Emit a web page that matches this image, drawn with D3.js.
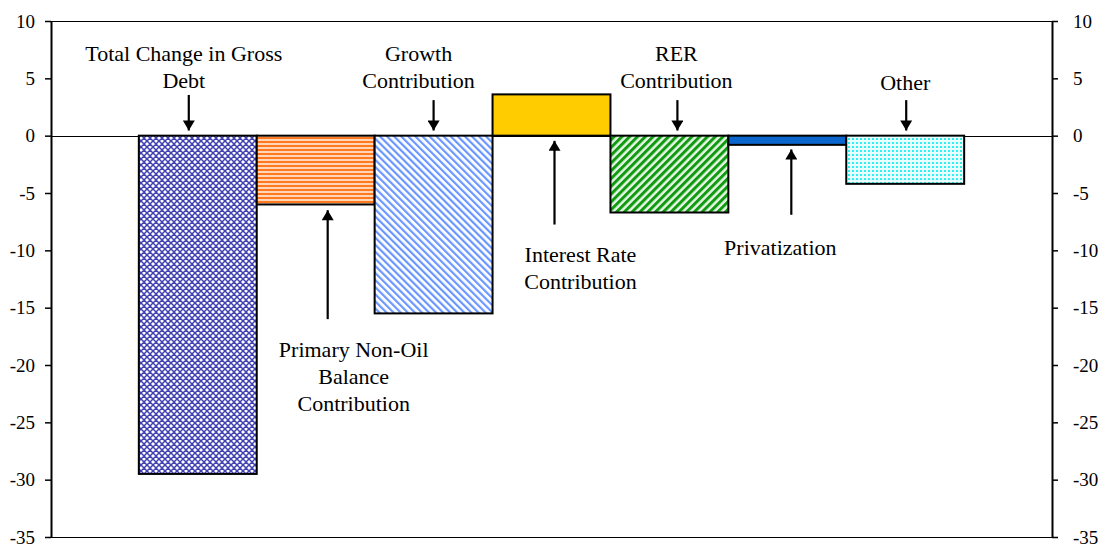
<!DOCTYPE html>
<html>
<head>
<meta charset="utf-8">
<script src="https://cdn.jsdelivr.net/npm/d3@7"></script>
<style>
  body { margin: 0; background: #fff; }
  svg text { font-family: "Liberation Serif", "Times New Roman", Times, "DejaVu Serif", serif; }
</style>
</head>
<body>
<div id="chart"></div>
<script>
// data
var categories = ["Total Change in Gross Debt", "Primary Non-Oil Balance Contribution",
  "Growth Contribution", "Interest Rate Contribution", "RER Contribution",
  "Privatization", "Other"];
var values = [-29.5, -6.0, -15.5, 3.6, -6.7, -0.8, -4.2];
var yTicks = [10, 5, 0, -5, -10, -15, -20, -25, -30, -35];

// label text and where it sits (y in data units, dx in px from bar centre)
var labelLines = [
  ["Total Change in Gross", "Debt"],
  ["Primary Non-Oil", "Balance", "Contribution"],
  ["Growth", "Contribution"],
  ["Interest Rate", "Contribution"],
  ["RER", "Contribution"],
  ["Privatization"],
  ["Other"]
];
var labelY = [6.5, -19.3, 6.5, -11.0, 6.5, -10.4, 4.0];
var labelDx = [-14, 38, -15, 29, 7, -7, 0];
var arrowFrom = [3.55, -16.0, 3.1, -7.75, 3.1, -6.9, 3.1];
var arrowTo = [0.45, -6.5, 0.45, -0.45, 0.45, -1.2, 0.45];
var arrowDx = [-9, 12, 0, 3, 8, 4, 1];

var FONT = "'Liberation Serif', 'Times New Roman', Times, 'DejaVu Serif', serif";

var W = 1110, H = 546;
var margin = {top: 21, right: 58, bottom: 9, left: 51},
    width = W - margin.left - margin.right,
    height = H - margin.top - margin.bottom;

var svg = d3.select("#chart").append("svg")
    .attr("width", W).attr("height", H)
    .attr("font-family", FONT);

// patterns
var defs = svg.append("defs");

var p1 = defs.append("pattern").attr("id", "pTotal")
  .attr("patternUnits", "userSpaceOnUse").attr("width", 6).attr("height", 6);
p1.append("rect").attr("width", 6).attr("height", 6).attr("fill", "#fff");
p1.append("path").attr("d", "M0,0L6,6M6,0L0,6M-3,3L3,9M3,-3L9,3M3,9L9,3M-3,3L3,-3")
  .attr("stroke", "#4040b0").attr("stroke-width", 1.5);

var p2 = defs.append("pattern").attr("id", "pPrimary")
  .attr("patternUnits", "userSpaceOnUse").attr("width", 4).attr("height", 4);
p2.append("rect").attr("width", 4).attr("height", 4).attr("fill", "#ffd6b8");
p2.append("rect").attr("width", 4).attr("height", 2).attr("fill", "#ff7a1e");

var p3 = defs.append("pattern").attr("id", "pGrowth")
  .attr("patternUnits", "userSpaceOnUse").attr("width", 5).attr("height", 5)
  .attr("patternTransform", "rotate(-45)");
p3.append("rect").attr("width", 5).attr("height", 5).attr("fill", "#fff");
p3.append("rect").attr("width", 2.2).attr("height", 5).attr("fill", "#6a96ff");

var p5 = defs.append("pattern").attr("id", "pRER")
  .attr("patternUnits", "userSpaceOnUse").attr("width", 5.5).attr("height", 5.5)
  .attr("patternTransform", "rotate(45)");
p5.append("rect").attr("width", 5.5).attr("height", 5.5).attr("fill", "#e6f5e6");
p5.append("rect").attr("width", 3).attr("height", 5.5).attr("fill", "#109a10");

var p7 = defs.append("pattern").attr("id", "pOther")
  .attr("patternUnits", "userSpaceOnUse").attr("width", 4).attr("height", 4);
p7.append("rect").attr("width", 4).attr("height", 4).attr("fill", "#e8ffff");
p7.append("rect").attr("x", 1).attr("y", 1).attr("width", 2).attr("height", 2).attr("fill", "#2ef0f0");

var fills = ["url(#pTotal)", "url(#pPrimary)", "url(#pGrowth)", "#ffcc00",
  "url(#pRER)", "#0a66cc", "url(#pOther)"];

var g = svg.append("g")
  .attr("transform", "translate(" + margin.left + "," + margin.top + ")");

var x = d3.scaleBand()
  .domain(categories)
  .range([0, width])
  .paddingInner(0)
  .paddingOuter(0.745);

var y = d3.scaleLinear()
  .domain([-35, 10])
  .range([height, 0]);

// frame lines top / bottom and zero line
[10, -35, 0].forEach(function(v) {
  g.append("line")
    .attr("x1", 0).attr("x2", width)
    .attr("y1", Math.round(y(v)) + 0.5).attr("y2", Math.round(y(v)) + 0.5)
    .attr("stroke", "#000").attr("stroke-width", 1);
});

// bars
g.selectAll("rect.bar")
  .data(values)
  .enter().append("rect")
    .attr("class", "bar")
    .attr("x", function(d, i) { return x(categories[i]); })
    .attr("y", function(d) { return y(Math.max(0, d)); })
    .attr("width", x.bandwidth())
    .attr("height", function(d) { return Math.abs(y(d) - y(0)); })
    .attr("fill", function(d, i) { return fills[i]; })
    .attr("stroke", "#000")
    .attr("stroke-width", 2);

// axes, plain hyphen minus as in the original
var fmt = function(d) { return String(d); };
var leftAxis = g.append("g")
  .call(d3.axisLeft(y).tickValues(yTicks).tickFormat(fmt)
    .tickSize(6).tickSizeOuter(0).tickPadding(10));
var rightAxis = g.append("g")
  .attr("transform", "translate(" + width + ",0)")
  .call(d3.axisRight(y).tickValues(yTicks).tickFormat(fmt)
    .tickSize(6).tickSizeOuter(0).tickPadding(15));
[leftAxis, rightAxis].forEach(function(a) {
  a.attr("font-family", FONT).attr("font-size", 19);
  a.select(".domain").attr("stroke-width", 2);
  a.selectAll(".tick line").attr("stroke-width", 1.5);
  a.selectAll("text").attr("fill", "#000");
});
leftAxis.selectAll(".tick text").attr("dy", "0.33em");
rightAxis.selectAll(".tick text").attr("dy", "0.33em").attr("x", 21);

// arrowhead marker
defs.append("marker").attr("id", "head")
  .attr("viewBox", "0 0 10 12").attr("refX", 10).attr("refY", 6)
  .attr("markerWidth", 14).attr("markerHeight", 12)
  .attr("markerUnits", "userSpaceOnUse").attr("orient", "auto")
  .append("path").attr("d", "M0,0L10,6L0,12Z").attr("fill", "#000");

// annotations
categories.forEach(function(c, i) {
  var cx = x(c) + x.bandwidth() / 2;
  var t = g.append("text")
    .attr("text-anchor", "middle")
    .attr("font-family", FONT)
    .attr("font-size", 22)
    .attr("fill", "#000");
  labelLines[i].forEach(function(line, j) {
    t.append("tspan")
      .attr("x", cx + labelDx[i])
      .attr("y", y(labelY[i]) + j * 27)
      .text(line);
  });
  g.append("line")
    .attr("x1", cx + arrowDx[i]).attr("x2", cx + arrowDx[i])
    .attr("y1", y(arrowFrom[i])).attr("y2", y(arrowTo[i]))
    .attr("stroke", "#000").attr("stroke-width", 2.2)
    .attr("marker-end", "url(#head)");
});
</script>
</body>
</html>
